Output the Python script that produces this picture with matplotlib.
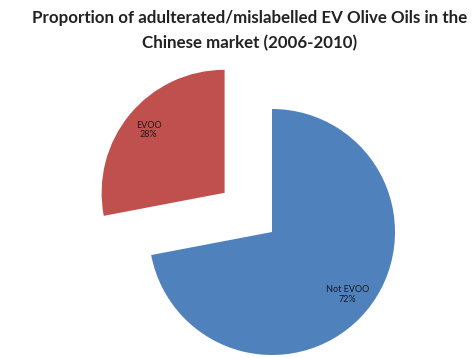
import matplotlib.pyplot as plt

# share of EV olive oils found adulterated / mislabelled
names = ["Not EVOO", "EVOO"]
shares = [72, 28]
colors = ["#4F81BD", "#C0504D"]
explode = [0, 0.5]

R = 123
fig = plt.figure(figsize=(4.73, 3.58), dpi=100)
ax = fig.add_axes([0, 0, 1, 1])

labels = [f"{n}\n{s}%" for n, s in zip(names, shares)]
wedges, texts = ax.pie(shares, labels=labels, colors=colors,
                       explode=[e * R for e in explode],
                       startangle=90, counterclock=False, center=(272, 126),
                       radius=R, labeldistance=0.8, frame=True,
                       wedgeprops=dict(linewidth=0),
                       textprops=dict(fontsize=6.5, color="#1a1a1a", family="Lato"))
for t in texts:
    t.set_ha("center")
    t.set_va("center")
    t.set_linespacing(1.1)
ax.set_xlim(0, 473)
ax.set_ylim(0, 358)
ax.set_aspect("equal")
ax.axis("off")

fig.text(0.527, 0.972, "Proportion of adulterated/mislabelled EV Olive Oils in the\nChinese market (2006-2010)",
         ha="center", va="top", fontsize=12.2, fontweight="bold", family="Lato",
         color="#222222", linespacing=1.65)

fig.savefig("out.png", dpi=100)
